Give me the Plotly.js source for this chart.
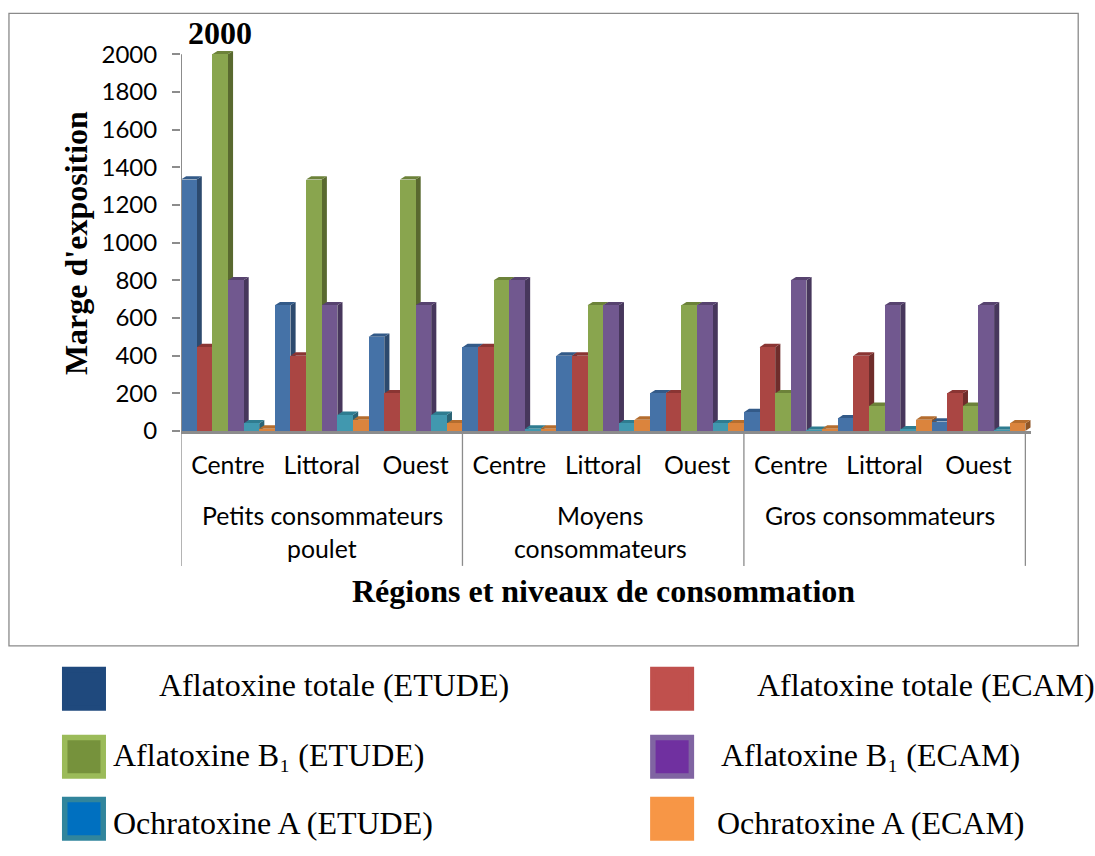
<!DOCTYPE html>
<html><head><meta charset="utf-8">
<script src="https://cdn.plot.ly/plotly-3.0.1.min.js"></script>
<style>html,body{margin:0;padding:0;background:#fff}</style></head>
<body><div id="chart"></div>
<script>
const regions = ["Centre","Littoral","Ouest","Centre","Littoral","Ouest","Centre","Littoral","Ouest"];
const groupLines = [["Petits consommateurs","poulet"],["Moyens","consommateurs"],["Gros consommateurs"]];
const yTicks = [0,200,400,600,800,1000,1200,1400,1600,1800,2000];
const afTotEtude = [1335,667,500,445,400,200,100,67,50];
const afTotEcam  = [445,400,200,445,400,200,445,400,200];
const afB1Etude  = [2000,1335,1335,800,667,667,200,133,133];
const afB1Ecam   = [800,667,667,800,667,667,800,667,667];
const otaEtude   = [40,85,85,12,40,40,6,8,6];
const otaEcam    = [12,60,40,12,60,40,12,60,40];
const seriesNames = ["Aflatoxine totale (ETUDE)","Aflatoxine totale (ECAM)","Aflatoxine B₁ (ETUDE)","Aflatoxine B₁ (ECAM)","Ochratoxine A (ETUDE)","Ochratoxine A (ECAM)"];
const seriesValues = [afTotEtude,afTotEcam,afB1Etude,afB1Ecam,otaEtude,otaEcam];
const frontColors = ["#4572A7","#AA4643","#89A54E","#71588F","#4198AF","#DB843D"];
const sideColors  = ["#2C4A6E","#6F2D2B","#59692F","#47375C","#2A6375","#8F5526"];
const topColors   = ["#335A88","#8A3533","#6C8239","#57436F","#2F7C90","#B56D2E"];
const swatchBorder = ["#1F497D","#C0504D","#9BBB59","#8064A2","#31859C","#F79646"];
const swatchFill   = ["#1F497D","#C0504D","#76923C","#7030A0","#0070C0","#F79646"];

const W=1095,H=856,L=181,T=42.7,PW=849.8,PH=388.3;
const xp=p=>(p-L)/PW, yp=p=>(T+PH-p)/PH;
const barW=1/6, dx=0.055, dy=18;
const serif="'Liberation Serif','Times New Roman',serif", sans="Lato,Carlito,sans-serif";
const grey="#8C8C8C";

const traces=seriesValues.map((v,i)=>({type:"bar",name:seriesNames[i],x:regions.map((_,k)=>k),y:v,
  marker:{color:frontColors[i],line:{width:0}},showlegend:false,hoverinfo:"y"}));

const shapes=[];
regions.forEach((_,k)=>{
  seriesValues.forEach((v,i)=>{
    const x0=k-0.5+i*barW,x1=x0+barW,y=v[k];
    shapes.push({type:"path",xref:"x",yref:"y",layer:"below",line:{width:0},fillcolor:sideColors[i],
      path:`M${x1},0 L${x1+dx},${dy} L${x1+dx},${y+dy} L${x1},${y} Z`});
    shapes.push({type:"path",xref:"x",yref:"y",layer:"below",line:{width:0},fillcolor:topColors[i],
      path:`M${x0},${y} L${x0+dx},${y+dy} L${x1+dx},${y+dy} L${x1},${y} Z`});
  });
});
shapes.push({type:"rect",xref:"paper",yref:"paper",x0:xp(9),x1:xp(1078),y0:yp(13),y1:yp(646),line:{color:"#8A8A8A",width:1.3}});
shapes.push({type:"line",xref:"x",yref:"y",x0:-0.5,x1:-0.5,y0:0,y1:2000,line:{color:grey,width:2}});
[-0.5,2.5,5.5,8.5].forEach(v=>shapes.push({type:"line",xref:"x",yref:"paper",x0:v,x1:v,y0:yp(431),y1:yp(566),line:{color:grey,width:1.3}}));

const ann=[];
ann.push({xref:"x",yref:"y",x:-0.5+2.5*barW,y:2000,yshift:1,text:"<b>2000</b>",showarrow:false,yanchor:"bottom",font:{family:serif,size:32,color:"#000"}});
ann.push({xref:"paper",yref:"paper",x:xp(76),y:yp(243),xanchor:"center",yanchor:"middle",text:"<b>Marge d'exposition</b>",textangle:-90,showarrow:false,font:{family:serif,size:32,color:"#000"}});
ann.push({xref:"paper",yref:"paper",x:xp(603),y:yp(591),xanchor:"center",yanchor:"middle",text:"<b>Régions et niveaux de consommation</b>",showarrow:false,font:{family:serif,size:32,color:"#000"}});
const groupCenters=[322,600,880];
groupLines.forEach((lines,g)=>lines.forEach((t,l)=>ann.push({xref:"paper",yref:"paper",x:xp(groupCenters[g]),y:yp(516+33*l),xanchor:"center",text:t,showarrow:false,yanchor:"middle",font:{family:sans,size:24.8,color:"#000"}})));

const legendPos=[
 {sx:62,sy:667,tx:157},{sx:650,sy:667,tx:755},
 {sx:62,sy:735,tx:111},{sx:650,sy:735,tx:719},
 {sx:62,sy:797,tx:111},{sx:650,sy:797,tx:715}];
const textY=[685,685,755,755,823,823];
legendPos.forEach((p,i)=>{
  const b=5.5;
  shapes.push({type:"rect",xref:"paper",yref:"paper",x0:xp(p.sx),x1:xp(p.sx+44),y0:yp(p.sy),y1:yp(p.sy+44),fillcolor:swatchBorder[i],line:{width:0}});
  shapes.push({type:"rect",xref:"paper",yref:"paper",x0:xp(p.sx+b),x1:xp(p.sx+44-b),y0:yp(p.sy+b),y1:yp(p.sy+44-b),fillcolor:swatchFill[i],line:{width:0}});
  ann.push({xref:"paper",yref:"paper",x:xp(p.tx),y:yp(textY[i]),xanchor:"left",yanchor:"middle",text:seriesNames[i],showarrow:false,align:"left",font:{family:serif,size:32,color:"#000"}});
});

Plotly.newPlot("chart",traces,{
  width:W,height:H,margin:{l:L,r:W-L-PW,t:T,b:H-T-PH,pad:0},
  paper_bgcolor:"#fff",plot_bgcolor:"#fff",barmode:"group",bargap:0,bargroupgap:0,showlegend:false,
  xaxis:{range:[-0.5,8.56],tickmode:"array",tickvals:regions.map((_,k)=>k),ticktext:regions,ticks:"outside",ticklen:10,tickcolor:"rgba(0,0,0,0)",
    showgrid:false,zeroline:false,showline:true,linecolor:grey,linewidth:3,tickfont:{family:sans,size:24.8,color:"#000"}},
  yaxis:{range:[0,2060],tickmode:"array",tickvals:yTicks,ticks:"outside",ticklen:8,tickcolor:grey,tickwidth:2,showgrid:false,zeroline:false,showline:false,
    ticklabelstandoff:10,tickfont:{family:sans,size:24,color:"#000"}},
  shapes:shapes,annotations:ann
},{displayModeBar:false,staticPlot:true});
</script></body></html>
